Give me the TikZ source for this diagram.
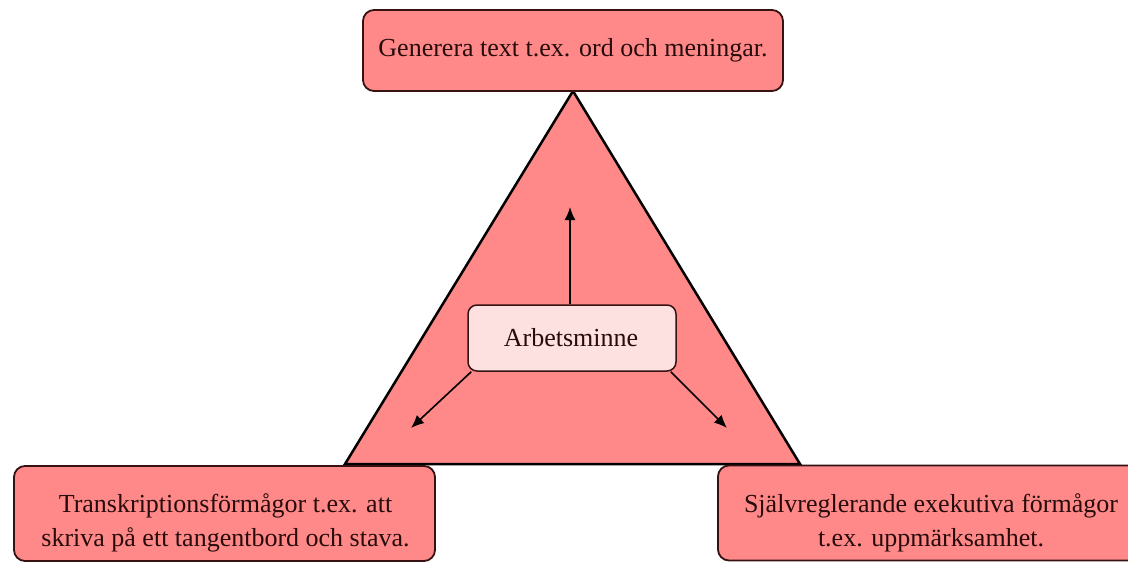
\documentclass[tikz,border=0pt]{standalone}
\usepackage{fontspec}
\setmainfont{Liberation Serif}
\usetikzlibrary{arrows.meta}
\definecolor{boxfill}{RGB}{255,137,137}
\definecolor{innerfill}{RGB}{253,224,224}
\definecolor{edgecol}{RGB}{55,18,18}
\definecolor{txtcol}{RGB}{40,12,12}
\tikzset{
  pinkbox/.style={draw=edgecol, fill=boxfill, line width=1.8pt, rounded corners=11pt, inner sep=0pt},
  lightbox/.style={draw=edgecol, fill=innerfill, line width=1.5pt, rounded corners=9pt, inner sep=0pt},
  lbl/.style={text=txtcol, align=center, font=\fontsize{26}{34}\selectfont, inner sep=0pt},
  arr/.style={draw=black, line width=1.6pt, -{Latex[length=13pt,width=11pt]}}
}
\begin{document}
\begin{tikzpicture}[x=1pt,y=-1pt]
\useasboundingbox (0,0) rectangle (1128,563);
\fill[white] (0,0) rectangle (1128,563);
% triangle
\coordinate (apex) at (573,91);
\coordinate (bright) at (800,464);
\coordinate (bleft) at (345,464);
\draw[fill=boxfill, draw=black, line width=2.5pt, line join=miter] (apex) -- (bright) -- (bleft) -- cycle;
% boxes
\node[pinkbox, minimum width=420pt, minimum height=81pt] (top) at (573,50.5) {};
\node[lbl] (toplbl) at (573,50) {Generera text t.ex. ord och meningar.};
\node[pinkbox, minimum width=421pt, minimum height=95pt] (bl) at (224.5,513.5) {};
\node[lbl] (bllbl) at (225.5,523) {Transkriptionsförmågor t.ex. att\\skriva på ett tangentbord och stava.};
\node[pinkbox, minimum width=426pt, minimum height=95pt] (br) at (931,513) {};
\node[lbl] (brlbl) at (931,523) {Självreglerande exekutiva förmågor\\t.ex. uppmärksamhet.};
% center
\node[lightbox, minimum width=208pt, minimum height=66pt] (mem) at (572,338) {};
\node[lbl] (memlbl) at (571,338) {Arbetsminne};
% arrows
\coordinate (up) at (570,207);
\coordinate (dl) at (411,428);
\coordinate (dr) at (727,428);
\draw[arr] (mem.north -| up) -- (up);
\draw[arr] ([xshift=4pt]mem.south west) -- (dl);
\draw[arr] ([xshift=-6pt]mem.south east) -- (dr);
\end{tikzpicture}
\end{document}
